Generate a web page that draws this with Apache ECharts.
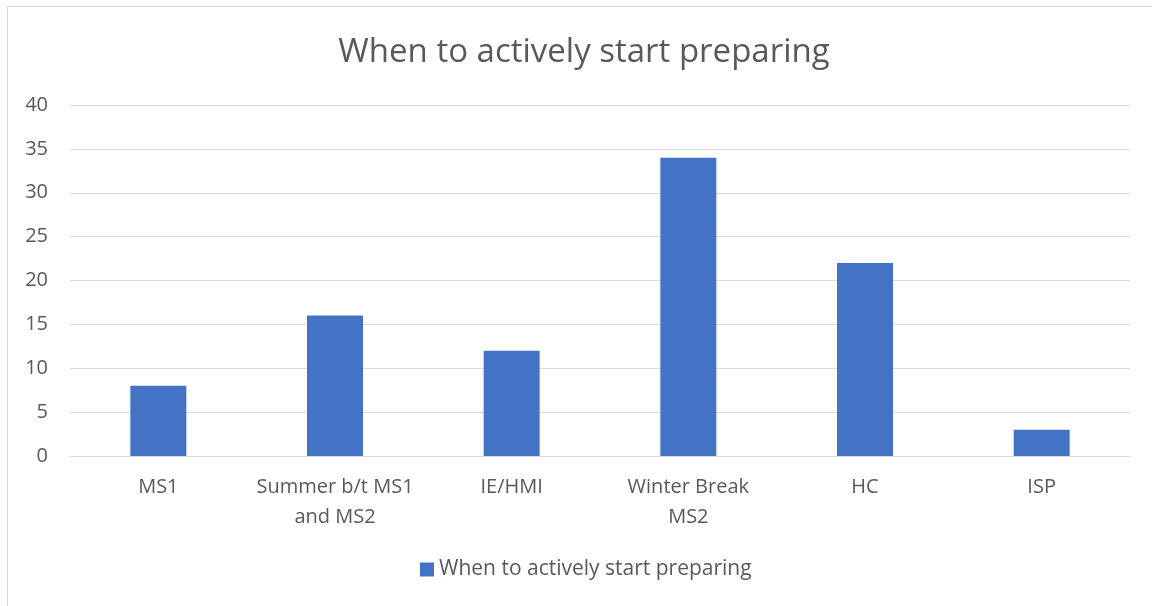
<!DOCTYPE html>
<html>
<head>
<meta charset="utf-8">
<script src="https://cdn.jsdelivr.net/npm/echarts@6/dist/echarts.min.js"></script>
<style>
  html, body { margin: 0; padding: 0; background: #fff; overflow: hidden; }
  #frame { position: absolute; left: 7px; top: 6px; width: 1160px; height: 620px; border: 1px solid #d9d9d9; box-sizing: border-box; }
  #chart { position: absolute; left: 0; top: 0; width: 1152px; height: 606px; }
</style>
</head>
<body>
<div id="frame"></div>
<div id="chart"></div>
<script>
// dados do gráfico
const categorias = ["MS1", "Summer b/t MS1\nand MS2", "IE/HMI", "Winter Break\nMS2", "HC", "ISP"];
const valores = [8, 16, 12, 34, 22, 3];
const nomeSerie = "When to actively start preparing";
const ticksY = { min: 0, max: 40, interval: 5 };

const fonte = "'Open Sans', sans-serif";
const chart = echarts.init(document.getElementById("chart"));
chart.setOption({
  title: {
    text: "When to actively start preparing",
    left: 579,
    textAlign: "center",
    top: 31,
    textStyle: { fontFamily: fonte, fontSize: 33, fontWeight: "normal", color: "#595959" }
  },
  legend: {
    bottom: 21,
    left: 415,
    itemWidth: 14,
    itemHeight: 14,
    itemGap: 6,
    icon: "rect",
    textStyle: { fontFamily: fonte, fontSize: 21, color: "#595959" },
    data: [nomeSerie]
  },
  grid: { left: 70, right: 22, top: 105, bottom: 150 },
  xAxis: {
    type: "category",
    data: categorias,
    axisLine: { lineStyle: { color: "#d9d9d9", width: 1 } },
    axisTick: { show: false },
    axisLabel: { interval: 0, fontFamily: fonte, fontSize: 20, color: "#595959", margin: 16, lineHeight: 30 }
  },
  yAxis: {
    type: "value",
    min: ticksY.min,
    max: ticksY.max,
    interval: ticksY.interval,
    axisLine: { show: false },
    axisTick: { show: false },
    splitLine: { lineStyle: { color: "#d9d9d9", width: 1 } },
    axisLabel: { fontFamily: fonte, fontSize: 20, color: "#595959", margin: 22 }
  },
  series: [{
    name: nomeSerie,
    type: "bar",
    data: valores,
    barWidth: 56,
    itemStyle: { color: "#4472c4" }
  }]
});
</script>
</body>
</html>
